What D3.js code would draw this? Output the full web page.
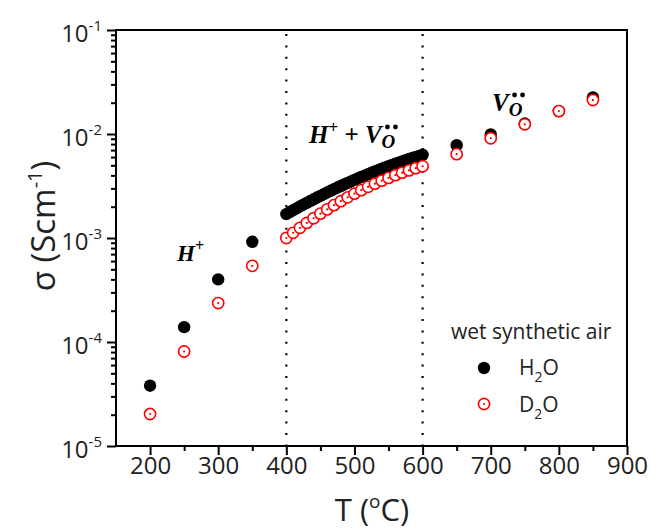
<!DOCTYPE html>
<html>
<head>
<meta charset="utf-8">
<script src="https://cdn.jsdelivr.net/npm/d3@7"></script>
<style>
  body { margin: 0; background: #fff; }
  text { font-family: 'Open Sans', sans-serif; }
  .ann text { font-family: 'Liberation Serif', serif; font-weight: bold; font-style: italic; }
</style>
</head>
<body>
<div class="canvas"></div>
<script>
// data
const lowT = [200, 250, 300, 350];
const h2oLow = [3.8e-5, 1.39e-4, 4.0e-4, 9.2e-4];
const d2oLow = [2.03e-5, 8.1e-5, 2.37e-4, 5.4e-4];

const midTH2O = [400, 405, 410, 415, 420, 425, 430, 435, 440, 445, 450, 455, 460, 465, 470,
  475, 480, 485, 490, 495, 500, 505, 510, 515, 520, 525, 530, 535, 540, 545, 550,
  555, 560, 565, 570, 575, 580, 585, 590, 595, 600];
const h2oMid = [1.698e-3, 1.772e-3, 1.849e-3, 1.928e-3, 2.009e-3, 2.089e-3, 2.178e-3, 2.265e-3,
  2.355e-3, 2.449e-3, 2.541e-3, 2.642e-3, 2.742e-3, 2.844e-3, 2.944e-3, 3.055e-3, 3.162e-3,
  3.273e-3, 3.388e-3, 3.499e-3, 3.622e-3, 3.741e-3, 3.864e-3, 3.981e-3, 4.111e-3, 4.236e-3,
  4.365e-3, 4.498e-3, 4.634e-3, 4.764e-3, 4.898e-3, 5.035e-3, 5.176e-3, 5.309e-3, 5.458e-3,
  5.598e-3, 5.741e-3, 5.875e-3, 6.026e-3, 6.166e-3, 6.310e-3];

const midTD2O = [400, 410, 420, 430, 440, 450, 460, 470, 480, 490, 500,
  510, 520, 530, 540, 550, 560, 570, 580, 590, 600];
const d2oMid = [1.000e-3, 1.122e-3, 1.253e-3, 1.396e-3, 1.549e-3, 1.714e-3, 1.884e-3, 2.070e-3,
  2.259e-3, 2.460e-3, 2.667e-3, 2.884e-3, 3.105e-3, 3.327e-3, 3.556e-3, 3.784e-3, 4.018e-3,
  4.246e-3, 4.467e-3, 4.688e-3, 4.898e-3];

const highT = [650, 700, 750, 800, 850];
const h2oHigh = [7.8e-3, 9.9e-3, 1.26e-2, 1.66e-2, 2.25e-2];
const d2oHigh = [6.4e-3, 9.1e-3, 1.24e-2, 1.66e-2, 2.12e-2];

const xTicks = [200, 300, 400, 500, 600, 700, 800, 900];
const xMinor = [250, 350, 450, 550, 650, 750, 850];
const yExponents = [-5, -4, -3, -2, -1];
const regionBounds = [400, 600];

// svg + margins
const svg = d3.select('.canvas')
  .append('svg')
  .attr('width', 651)
  .attr('height', 532);

const margin = { top: 30, left: 116 };
const graphWidth = 511;
const graphHeight = 416;

const graph = svg.append('g')
  .attr('transform', `translate(${margin.left}, ${margin.top})`);

const x = d3.scaleLinear().domain([150, 900]).range([0, graphWidth]);
const y = d3.scaleLog().domain([1e-5, 1e-1]).range([graphHeight, 0]);

// axes
const yMajor = yExponents.map(e => Math.pow(10, e));
const yMinor = y.ticks().filter(v => !yMajor.some(m => Math.abs(v / m - 1) < 1e-6));

const styleAxis = g => {
  g.select('.domain').remove();
  g.selectAll('line').attr('stroke', '#000').attr('stroke-width', 2);
};

graph.append('g')
  .call(d3.axisLeft(y).tickValues(yMinor).tickSize(5).tickFormat(''))
  .call(styleAxis);
graph.append('g')
  .call(d3.axisLeft(y).tickValues(yMajor).tickSize(9).tickFormat(''))
  .call(styleAxis);

const xAxisGroup = graph.append('g')
  .attr('transform', `translate(0, ${graphHeight})`);
xAxisGroup.append('g')
  .call(d3.axisBottom(x).tickValues(xMinor).tickSize(5).tickFormat(''))
  .call(styleAxis);
xAxisGroup.append('g')
  .call(d3.axisBottom(x).tickValues(xTicks).tickSize(9).tickFormat(d => d))
  .call(styleAxis)
  .selectAll('text')
  .attr('font-size', 24)
  .attr('font-family', 'Open Sans')
  .attr('fill', '#222')
  .attr('y', 11)
  .attr('dy', '0.71em');

// y tick labels 10^n
const yLabels = graph.append('g');
yExponents.forEach(e => {
  const t = yLabels.append('text')
    .attr('x', -14)
    .attr('y', y(Math.pow(10, e)) + 12)
    .attr('text-anchor', 'end')
    .attr('font-size', 24)
    .attr('fill', '#222');
  t.append('tspan').text('10');
  t.append('tspan').attr('font-size', 15).attr('dy', -11).text(e);
});

// frame
graph.append('rect')
  .attr('width', graphWidth)
  .attr('height', graphHeight)
  .attr('fill', 'none')
  .attr('stroke', '#000')
  .attr('stroke-width', 2);

// dotted region lines
graph.selectAll('.vline')
  .data(regionBounds)
  .enter()
  .append('line')
  .attr('x1', d => x(d))
  .attr('x2', d => x(d))
  .attr('y1', 4)
  .attr('y2', graphHeight)
  .attr('stroke', '#000')
  .attr('stroke-width', 2.2)
  .attr('stroke-dasharray', '2,9.4');

// points
const h2o = [
  ...lowT.map((t, i) => ({ t, v: h2oLow[i] })),
  ...midTH2O.map((t, i) => ({ t, v: h2oMid[i] })),
  ...highT.map((t, i) => ({ t, v: h2oHigh[i] }))
];
const d2o = [
  ...lowT.map((t, i) => ({ t, v: d2oLow[i] })),
  ...midTD2O.map((t, i) => ({ t, v: d2oMid[i] })),
  ...highT.map((t, i) => ({ t, v: d2oHigh[i] }))
];

graph.append('g').selectAll('circle')
  .data(h2o)
  .enter()
  .append('circle')
  .attr('cx', d => x(d.t))
  .attr('cy', d => y(d.v))
  .attr('r', 6.2)
  .attr('fill', '#000');

const redPts = graph.append('g').selectAll('g')
  .data(d2o)
  .enter()
  .append('g')
  .attr('transform', d => `translate(${x(d.t)}, ${y(d.v)})`);
redPts.append('circle')
  .attr('r', 5.6)
  .attr('fill', '#fff')
  .attr('stroke', '#ff0000')
  .attr('stroke-width', 1.6);
redPts.append('circle')
  .attr('r', 1.1)
  .attr('fill', '#ff0000');

// legend
const legend = svg.append('g');
legend.append('text')
  .attr('x', 451)
  .attr('y', 339)
  .attr('font-size', 21)
  .attr('fill', '#222')
  .text('wet synthetic air');
legend.append('circle')
  .attr('cx', 484).attr('cy', 368).attr('r', 6.2).attr('fill', '#000');
legend.append('circle')
  .attr('cx', 484).attr('cy', 404).attr('r', 5.6)
  .attr('fill', '#fff').attr('stroke', '#ff0000').attr('stroke-width', 1.6);
legend.append('circle')
  .attr('cx', 484).attr('cy', 404).attr('r', 1.1).attr('fill', '#ff0000');

[['H', 375], ['D', 412]].forEach(([sym, by]) => {
  const t = legend.append('text')
    .attr('x', 519)
    .attr('y', by)
    .attr('font-size', 21)
    .attr('fill', '#222');
  t.append('tspan').text(sym);
  t.append('tspan').attr('font-size', 14).attr('dy', 7).text('2');
  t.append('tspan').attr('dy', -7).text('O');
});

// axis titles
const xTitle = svg.append('text')
  .attr('x', 372)
  .attr('y', 521)
  .attr('text-anchor', 'middle')
  .attr('font-size', 31)
  .attr('fill', '#222');
xTitle.append('tspan').text('T (');
xTitle.append('tspan').attr('font-size', 19).attr('dy', -13).text('o');
xTitle.append('tspan').attr('dy', 13).text('C)');

const yTitle = svg.append('text')
  .attr('transform', 'translate(55, 226) rotate(-90)')
  .attr('text-anchor', 'middle')
  .attr('font-size', 33)
  .attr('fill', '#222');
yTitle.append('tspan').text('σ (Scm');
yTitle.append('tspan').attr('font-size', 20).attr('dy', -13).text('-1');
yTitle.append('tspan').attr('dy', 13).text(')');

// mechanism annotations
const ann = svg.append('g').attr('class', 'ann');

const a1 = ann.append('text').attr('x', 177).attr('y', 261).attr('font-size', 23);
a1.append('tspan').text('H');
a1.append('tspan').attr('font-size', 16).attr('dy', -10).attr('font-style', 'normal').text('+');

const a2 = ann.append('text').attr('x', 309).attr('y', 143).attr('font-size', 25);
a2.append('tspan').text('H');
a2.append('tspan').attr('font-size', 17).attr('dy', -10).attr('font-style', 'normal').text('+');
a2.append('tspan').attr('dy', 10).attr('font-style', 'normal').text(' + ');
a2.append('tspan').text('V');
a2.append('tspan').attr('font-size', 19).attr('dy', 5).text('O');

const a3 = ann.append('text').attr('x', 492).attr('y', 111).attr('font-size', 25);
a3.append('tspan').text('V');
a3.append('tspan').attr('font-size', 19).attr('dy', 5).text('O');

// the two dots (oxygen vacancy charge) above the subscript O
[a2, a3].forEach(t => {
  const node = t.node();
  const box = node.getExtentOfChar(node.getNumberOfChars() - 1);
  const cx = box.x + box.width / 2 + 3;
  [-4, 4].forEach(dx => {
    ann.append('circle')
      .attr('cx', cx + dx)
      .attr('cy', box.y - 4)
      .attr('r', 2.4)
      .attr('fill', '#000');
  });
});
</script>
</body>
</html>
